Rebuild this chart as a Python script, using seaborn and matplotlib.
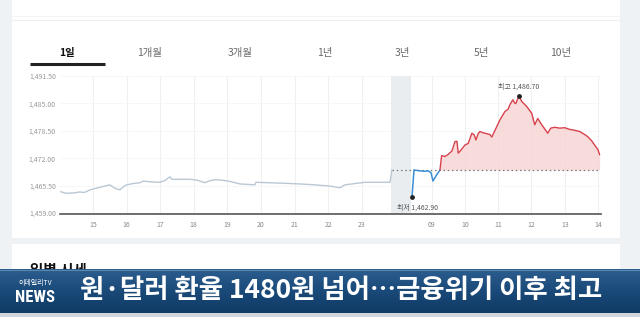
import matplotlib
matplotlib.use("Agg")
import matplotlib.pyplot as plt
import seaborn as sns
import pandas as pd
import numpy as np
from matplotlib.patches import Rectangle
from matplotlib.colors import LinearSegmentedColormap

sns.set_theme(style="white")
plt.rcParams['font.family'] = ['Noto Sans CJK KR', 'DejaVu Sans']

# ---------------- data ----------------
tabs = ["1일", "1개월", "3개월", "1년", "3년", "5년", "10년"]
day_ticks = ["15", "16", "17", "18", "19", "20", "21", "22", "23"]
hour_ticks = ["09", "10", "11", "12", "13", "14"]
y_ticks = [1459.0, 1465.5, 1472.0, 1478.5, 1485.0, 1491.5]

# previous days (fractional day of month)
past_days = [14.02, 14.2, 14.46, 14.6, 14.75, 14.91, 15.05, 15.2, 15.36, 15.5, 15.65,
             15.8, 15.9, 16.01, 16.2, 16.4, 16.5, 16.7, 16.99, 17.14, 17.29, 17.35,
             17.6, 17.89, 18.1, 18.33, 18.45, 18.63, 18.85, 19.08, 19.38, 19.82,
             19.85, 20.2, 20.57, 21.16, 21.6, 22.05, 22.35, 22.5, 22.8, 23.1, 23.5,
             23.84, 23.9]
past_vals = [1464.1, 1463.7, 1463.8, 1464.0, 1463.9, 1464.5, 1464.8, 1465.1, 1465.4, 1465.7, 1464.9,
             1464.5, 1465.2, 1465.7, 1466.0, 1466.2, 1466.6, 1466.4, 1466.3, 1466.7, 1467.6, 1467.0,
             1467.0, 1467.0, 1466.8, 1466.2, 1466.6, 1466.9, 1466.8, 1466.5, 1465.9, 1465.7,
             1466.3, 1466.2, 1466.1, 1465.9, 1465.7, 1465.4, 1465.0, 1465.7, 1466.0, 1466.3, 1466.3,
             1466.3, 1469.3]

# today (hour of day)
blue_hours = [8.41, 8.47, 8.65, 8.80, 8.89, 8.98, 9.04, 9.13, 9.25]
blue_vals = [1462.9, 1469.2, 1469.0, 1468.9, 1469.0, 1468.6, 1466.6, 1467.8, 1469.2]

red_hours = [9.25, 9.30, 9.40, 9.50, 9.61, 9.70, 9.76, 9.80, 9.85, 10.00, 10.10, 10.21,
             10.28, 10.33, 10.40, 10.45, 10.55, 10.60, 10.75, 10.81, 10.90, 11.05, 11.20,
             11.30, 11.35, 11.44, 11.50, 11.53, 11.62, 11.71, 11.86, 12.01, 12.06, 12.10,
             12.19, 12.25, 12.31, 12.49, 12.58, 12.70, 12.85, 13.00, 13.15, 13.30, 13.45,
             13.60, 13.69, 13.80, 13.90, 14.00, 14.05]
red_vals = [1469.2, 1472.6, 1472.4, 1472.9, 1473.7, 1475.9, 1476.0, 1473.2, 1473.6, 1475.1, 1475.5, 1477.9,
            1477.5, 1476.3, 1477.8, 1478.3, 1478.0, 1477.9, 1477.6, 1477.0, 1478.5, 1481.0, 1483.0,
            1483.6, 1484.6, 1485.8, 1485.0, 1484.9, 1486.7, 1485.4, 1484.2, 1482.6, 1481.0, 1479.9,
            1481.4, 1480.6, 1479.9, 1477.9, 1479.1, 1479.3, 1479.1, 1479.2, 1478.8, 1478.6, 1478.3,
            1477.6, 1477.1, 1476.2, 1475.1, 1474.0, 1472.8]

prev_close = 1469.2
low_label = "최저 1,462.90"
high_label = "최고 1,486.70"
headline = "원·달러 환율 1480원 넘어…금융위기 이후 최고"

# ---------------- axis mapping ----------------
def day_pos(d):
    return np.asarray(d) - 15.0

def hour_pos(h):
    return 10.08 + (np.asarray(h) - 9.0) * 0.99

W, H = 640, 317
fig = plt.figure(figsize=(6.4, 3.17), dpi=100)
fig.patch.set_facecolor("#eef2f4")

bg = fig.add_axes([0, 0, 1, 1])
bg.set_xlim(0, W); bg.set_ylim(H, 0); bg.axis("off")
bg.add_patch(Rectangle((12, 0), 608, 238, facecolor="white", edgecolor="none"))
bg.add_patch(Rectangle((12, 244), 608, 30, facecolor="white", edgecolor="none"))
bg.plot([12, 620], [16, 16], color="#f2f4f5", lw=0.8)
bg.plot([12, 620], [20, 20], color="#edf0f1", lw=0.8)

tab_x = [67, 150, 240, 325, 402, 481, 561]
for i, (t, x) in enumerate(zip(tabs, tab_x)):
    bg.text(x, 53, t, ha="center", va="center", fontsize=7.5,
            color="#111111" if i == 0 else "#6a6a6a",
            fontweight="bold" if i == 0 else "normal")
bg.plot([30, 105], [64, 64], color="#222222", lw=2.2, solid_capstyle="butt")

bg.text(30, 261.5, "일별 시세", ha="left", va="top", fontsize=10.5,
        fontweight="bold", color="#111111")

# banner gradient
grad = np.linspace(0, 1, 64).reshape(-1, 1)
cmap = LinearSegmentedColormap.from_list("b", ["#2b5d8e", "#1a4a79", "#0f3a66"])
bg.imshow(grad, extent=(0, W, 313, 269), cmap=cmap, aspect="auto", zorder=5)
bg.set_xlim(0, W); bg.set_ylim(H, 0)
bg.add_patch(Rectangle((0, 313), W, 4, facecolor="#cfd5da", edgecolor="none", zorder=5))
bg.plot([0, W], [269.5, 269.5], color="#5a86b0", lw=0.8, zorder=6)
bg.text(35, 283, "이데일리TV", ha="center", va="center", fontsize=5,
        color="white", zorder=7)
bg.text(35, 297, "NEWS", ha="center", va="center", fontsize=12,
        color="white", fontweight="bold", zorder=7, family=["Roboto Condensed", "Roboto", "DejaVu Sans"])
bg.text(341, 291, headline, ha="center", va="center", fontsize=19,
        color="white", fontweight="bold", zorder=7)

# ---------------- chart ----------------
ax = fig.add_axes([60 / W, 1 - 214 / H, 541 / W, (214 - 75.7) / H])
ax.set_facecolor("none")

past_df = pd.DataFrame({"x": day_pos(past_days), "y": past_vals})
blue_df = pd.DataFrame({"x": hour_pos(blue_hours), "y": blue_vals})
red_df = pd.DataFrame({"x": hour_pos(red_hours), "y": red_vals})

tick_pos = list(day_pos([int(d) for d in day_ticks])) + list(hour_pos([int(h) for h in hour_ticks]))
tick_lab = day_ticks + hour_ticks
for p in tick_pos:
    ax.axvline(p, color="#f0f0f0", lw=0.8, zorder=0)
for v in y_ticks[1:]:
    ax.axhline(v, color="#f6f6f6", lw=0.6, zorder=0)

ax.axvspan(8.87, 9.46, color="#e9edf0", zorder=0.5, lw=0)

ax.fill_between(red_df["x"], prev_close, red_df["y"], color="#f7d4d4", alpha=0.8, lw=0, zorder=1)
ax.plot([day_pos(past_days)[-1], 15.1], [prev_close, prev_close], color="#777777",
        lw=0.9, ls=(0, (1.2, 2.2)), zorder=2)

sns.lineplot(data=past_df, x="x", y="y", ax=ax, color="#b9c8d4", lw=1.0, zorder=3)
sns.lineplot(data=blue_df, x="x", y="y", ax=ax, color="#3a8ed5", lw=1.1, zorder=3)
sns.lineplot(data=red_df, x="x", y="y", ax=ax, color="#d8404c", lw=1.0, zorder=3)

lo_x = hour_pos(blue_hours)[0]
hi_i = int(np.argmax(red_vals))
hi_x = hour_pos(red_hours)[hi_i]
ax.scatter([lo_x], [min(blue_vals)], s=6, color="#222222", zorder=4)
ax.scatter([hi_x], [max(red_vals)], s=6, color="#222222", zorder=4)
ax.annotate(low_label, (lo_x, min(blue_vals)), xytext=(4, -5), textcoords="offset points",
            ha="center", va="top", fontsize=5, color="#555555")
ax.annotate(high_label, (hi_x, max(red_vals)), xytext=(0, 4), textcoords="offset points",
            ha="center", va="bottom", fontsize=5, color="#555555")

ax.set_xlim(-0.98, 15.12)
ax.set_ylim(1458.8, 1491.5)
ax.set_xticks(tick_pos)
ax.set_xticklabels(tick_lab)
ax.set_yticks(y_ticks)
ax.set_yticklabels([f"{v:,.2f}" for v in y_ticks])
ax.tick_params(axis="x", labelsize=5, colors="#888888", length=0, pad=5)
ax.tick_params(axis="y", labelsize=5, colors="#999999", length=0, pad=3)
ax.set_xlabel(""); ax.set_ylabel("")
for s in ["top", "right", "left"]:
    ax.spines[s].set_visible(False)
ax.spines["bottom"].set_color("#555555")
ax.spines["bottom"].set_linewidth(1.2)
ax.grid(False)

fig.savefig("out.png", dpi=100)
